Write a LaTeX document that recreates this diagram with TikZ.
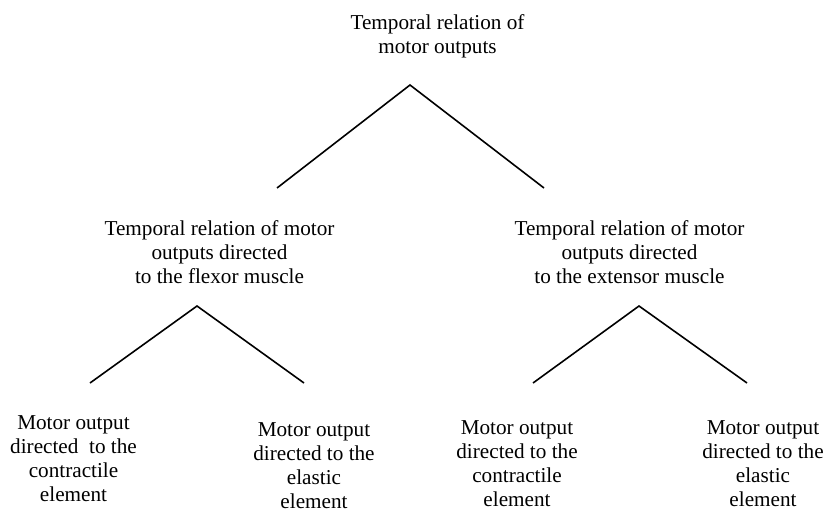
\documentclass[tikz,border=0pt]{standalone}
\usepackage{fontspec}
\setmainfont{Liberation Serif}
\begin{document}
\begin{tikzpicture}[x=1pt,y=-1pt,
  label/.style={align=center,anchor=base,inner sep=0pt,
    font=\fontsize{21.2}{24}\selectfont},
  branch/.style={line width=1.6pt,line join=miter}]
\useasboundingbox (0,0) rectangle (826,511);

% level 0 (anchor = baseline of the last line)
\node[label] (root) at (437.5,53) {Temporal relation of\\motor outputs};
% level 1
\node[label] (flex) at (219.5,283) {Temporal relation of motor\\outputs directed\\to the flexor muscle};
\node[label] (ext) at (629.5,283) {Temporal relation of motor\\outputs directed\\to the extensor muscle};
% level 2
\node[label] (fc) at (73.5,501) {Motor output\\directed\ \ to the\\contractile\\element};
\node[label] (fe) at (314,508) {Motor output\\directed to the\\elastic\\element};
\node[label] (ec) at (517,506) {Motor output\\directed to the\\contractile\\element};
\node[label] (ee) at (763,506) {Motor output\\directed to the\\elastic\\element};

% branch points
\coordinate (rootapex) at (410,85);
\coordinate (rootl) at (277,188);
\coordinate (rootr) at (544,188);
\coordinate (flexapex) at (197,306);
\coordinate (flexl) at (90,383);
\coordinate (flexr) at (304,383);
\coordinate (extapex) at (639,306);
\coordinate (extl) at (533,383);
\coordinate (extr) at (747,383);

\draw[branch] (rootl) -- (rootapex) -- (rootr);
\draw[branch] (flexl) -- (flexapex) -- (flexr);
\draw[branch] (extl) -- (extapex) -- (extr);
\end{tikzpicture}
\end{document}
